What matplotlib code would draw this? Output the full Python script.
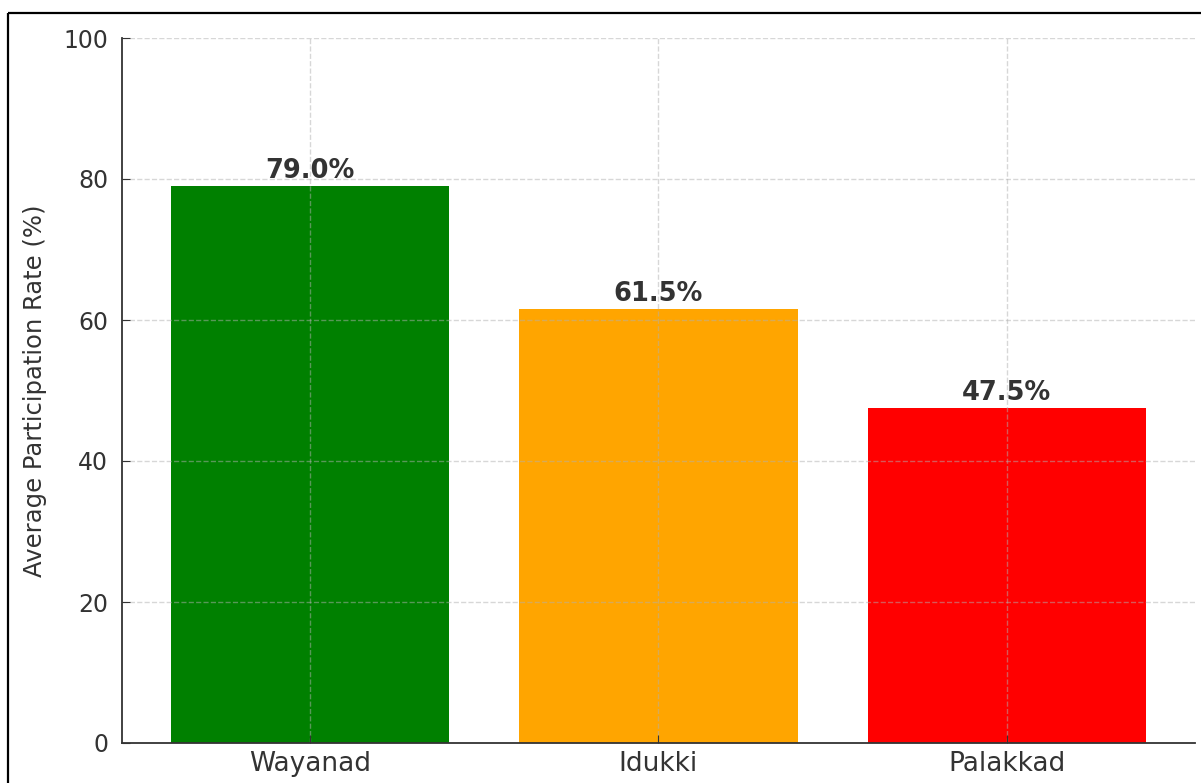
import matplotlib.pyplot as plt
from matplotlib.lines import Line2D

plt.rcParams['font.family'] = ['DejaVu Sans']

# average participation by district
districts = ['Wayanad', 'Idukki', 'Palakkad']
rates = [79.0, 61.5, 47.5]
bar_colors = ['green', 'orange', 'red']
yticks = [0, 20, 40, 60, 80, 100]

fig = plt.figure(figsize=(12.01, 7.83), dpi=100)
ax = fig.add_axes([122/1201, 40/783, (1195-122)/1201, (743-38)/783])

bars = ax.bar(districts, rates, color=bar_colors, width=0.8)
for b, v in zip(bars, rates):
    ax.text(b.get_x() + b.get_width()/2, v + 0.3, f'{v:.1f}%',
            ha='center', va='bottom', fontsize=18.5, fontweight='bold', color='#333333')

ax.set_ylim(0, 100)
ax.set_yticks(yticks)
ax.set_ylabel('Average Participation Rate (%)', fontsize=17.5, color='#333333', labelpad=12)
ax.grid(True, linestyle='--', color='#b0b0b0', alpha=0.5, linewidth=1)
ax.spines['top'].set_visible(False)
ax.spines['right'].set_visible(False)
for s in ('left', 'bottom'):
    ax.spines[s].set_color('#333333')
    ax.spines[s].set_linewidth(1.3)
ax.tick_params(direction='in', length=6, colors='#333333')
ax.tick_params(axis='y', labelsize=17, pad=10)
ax.tick_params(axis='x', labelsize=19, pad=6)

# frame lines along top and left edges
fig.add_artist(Line2D([7.5/1201, 7.5/1201], [0, 1 - 12.5/783], color='black', lw=1.6,
                      solid_capstyle='butt'))
fig.add_artist(Line2D([7.5/1201, 1.01], [1 - 12.5/783, 1 - 12.5/783], color='black', lw=1.6,
                      solid_capstyle='butt'))

fig.savefig('out.png', dpi=100)
